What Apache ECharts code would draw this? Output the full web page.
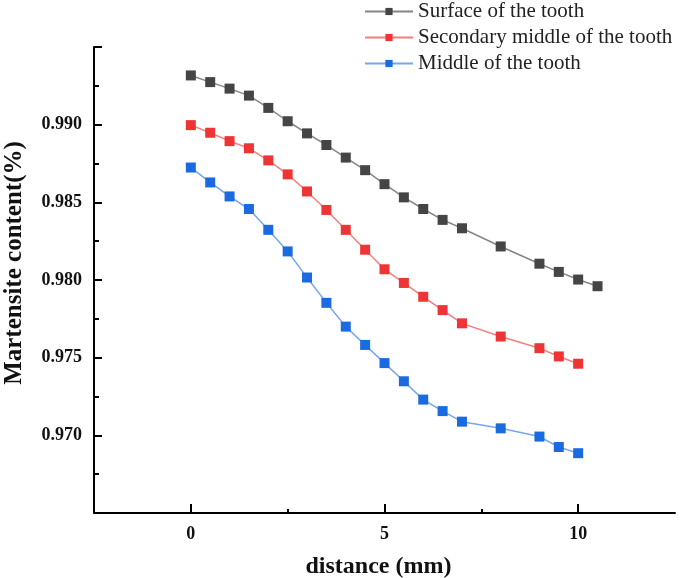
<!DOCTYPE html>
<html>
<head>
<meta charset="utf-8">
<script src="https://cdn.jsdelivr.net/npm/echarts@6/dist/echarts.min.js"></script>
<style>
html,body{margin:0;padding:0;background:#fff;}
#chart{width:685px;height:578px;}
</style>
</head>
<body>
<div id="chart"></div>
<script>
var seriesNames = ['Surface of the tooth', 'Secondary middle of the tooth', 'Middle of the tooth'];
var xSurface = [0, 0.5, 1, 1.5, 2, 2.5, 3, 3.5, 4, 4.5, 5, 5.5, 6, 6.5, 7, 8, 9, 9.5, 10, 10.5];
var ySurface = [0.99317, 0.99274, 0.99232, 0.99187, 0.99108, 0.99022, 0.98944, 0.98869, 0.98788, 0.98707, 0.98617, 0.98532, 0.98457, 0.98387, 0.98333, 0.98216, 0.98105, 0.98052, 0.98003, 0.97960];
var xSecondary = [0, 0.5, 1, 1.5, 2, 2.5, 3, 3.5, 4, 4.5, 5, 5.5, 6, 6.5, 7, 8, 9, 9.5, 10];
var ySecondary = [0.98997, 0.98948, 0.98894, 0.98848, 0.98770, 0.98680, 0.98570, 0.98451, 0.98323, 0.98195, 0.98069, 0.97981, 0.97892, 0.97806, 0.97721, 0.97636, 0.97561, 0.97508, 0.97461];
var xMiddle = [0, 0.5, 1, 1.5, 2, 2.5, 3, 3.5, 4, 4.5, 5, 5.5, 6, 6.5, 7, 8, 9, 9.5, 10];
var yMiddle = [0.98724, 0.98628, 0.98538, 0.98457, 0.98323, 0.98184, 0.98016, 0.97853, 0.97700, 0.97582, 0.97465, 0.97348, 0.97230, 0.97156, 0.97088, 0.97045, 0.96992, 0.96925, 0.96885];
var xTickLabels = [0, 5, 10];
var xMinorTicks = [2.5, 7.5];

function pairs(xs, ys) { return xs.map(function (x, i) { return [x, ys[i]]; }); }

var font = 'Liberation Serif';
var chart = echarts.init(document.getElementById('chart'));
chart.setOption({
  animation: false,
  backgroundColor: '#ffffff',
  grid: { left: 94, right: 10, top: 47, bottom: 65, containLabel: false, outerBoundsMode: 'none' },
  legend: {
    orient: 'vertical',
    left: 359,
    top: -4,
    itemWidth: 48,
    itemHeight: 9,
    itemGap: 5,
    textStyle: { fontFamily: font, fontSize: 21, color: '#222' },
    data: seriesNames
  },
  xAxis: [{
    type: 'value',
    min: -2.5,
    max: 12.5,
    name: 'distance (mm)',
    nameLocation: 'middle',
    nameGap: 42,
    nameTextStyle: { fontFamily: font, fontWeight: 'bold', fontSize: 24, color: '#111', padding: [0, 12, 0, 0] },
    axisLine: { onZero: false, lineStyle: { color: '#000', width: 2 } },
    axisTick: { inside: true, length: 9, customValues: xTickLabels, lineStyle: { color: '#000', width: 2 } },
    axisLabel: { customValues: xTickLabels, margin: 12, fontFamily: font, fontWeight: 'bold', fontSize: 18, color: '#111' },
    splitLine: { show: false }
  }, {
    type: 'value',
    min: -2.5,
    max: 12.5,
    position: 'bottom',
    axisLine: { show: false, onZero: false },
    axisTick: { inside: true, length: 4, customValues: xMinorTicks, lineStyle: { color: '#000', width: 2 } },
    axisLabel: { show: false },
    splitLine: { show: false }
  }],
  yAxis: {
    type: 'value',
    min: 0.965,
    max: 0.995,
    interval: 0.005,
    name: 'Martensite content(%)',
    nameLocation: 'middle',
    nameGap: 67,
    nameTextStyle: { fontFamily: font, fontWeight: 'bold', fontSize: 25, color: '#111', padding: [0, 0, 0, 34] },
    axisLine: { show: true, onZero: false, lineStyle: { color: '#000', width: 2 } },
    axisTick: { show: true, inside: true, length: 8, lineStyle: { color: '#000', width: 2 } },
    minorTick: { show: true, splitNumber: 2, length: 5, lineStyle: { color: '#000', width: 2 } },
    axisLabel: {
      showMinLabel: false, showMaxLabel: false, margin: 12,
      fontFamily: font, fontWeight: 'bold', fontSize: 18, color: '#111',
      formatter: function (v) { return v.toFixed(3); }
    },
    splitLine: { show: false },
    minorSplitLine: { show: false }
  },
  series: [{
    name: seriesNames[0], type: 'line', symbol: 'rect', symbolSize: 10,
    data: pairs(xSurface, ySurface),
    itemStyle: { color: '#454545' },
    lineStyle: { color: '#858585', width: 1.5 }
  }, {
    name: seriesNames[1], type: 'line', symbol: 'rect', symbolSize: 10,
    data: pairs(xSecondary, ySecondary),
    itemStyle: { color: '#ee3535' },
    lineStyle: { color: '#f27f7f', width: 1.5 }
  }, {
    name: seriesNames[2], type: 'line', symbol: 'rect', symbolSize: 10,
    data: pairs(xMiddle, yMiddle),
    itemStyle: { color: '#1a6ae0' },
    lineStyle: { color: '#76a6ee', width: 1.5 }
  }]
});
</script>
</body>
</html>
